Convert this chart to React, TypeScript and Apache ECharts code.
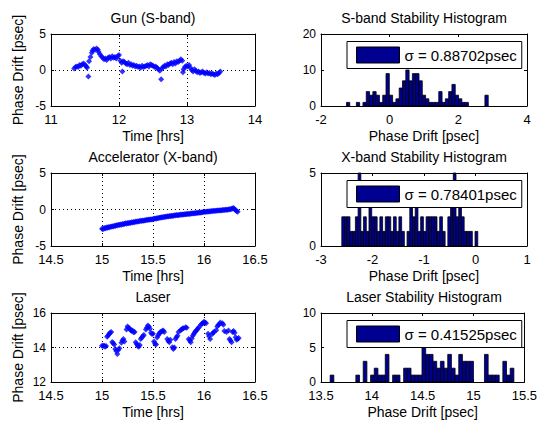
import React, { useEffect, useRef } from "react";
import * as echarts from "echarts";

const FONT = '"Liberation Sans", Arial, Helvetica, sans-serif';

// ---------- titles & labels ----------
const plotTitles = [
  "Gun (S-band)",
  "S-band Stability Histogram",
  "Accelerator (X-band)",
  "X-band Stability Histogram",
  "Laser",
  "Laser Stability Histogram",
];
const legendLabels = ["σ = 0.88702psec", "σ = 0.78401psec", "σ = 0.41525psec"];

// ---------- axis ranges / ticks ----------
const xRanges = [
  [11, 14, 1],
  [-2, 4, 2],
  [14.5, 16.5, 0.5],
  [-3, 1, 1],
  [14.5, 16.5, 0.5],
  [13.5, 15.5, 0.5],
];
const yRanges = [
  [-5, 5, 5],
  [0, 20, 10],
  [-5, 5, 5],
  [0, 5, 5],
  [12, 16, 2],
  [0, 10, 5],
];

// ---------- time series: [time hrs, phase drift psec] ----------
const gunDrift = [
  [11.34, 0.2], [11.36, 0.4], [11.38, 0.5], [11.40, 0.4], [11.42, 0.7], [11.44, 0.6],
  [11.46, 0.8], [11.48, 0.9], [11.50, 0.7], [11.52, 0.5], [11.53, 0.3], [11.55, -0.9],
  [11.56, 1.2], [11.58, 1.8], [11.60, 2.4], [11.61, 2.7], [11.63, 2.9], [11.65, 2.8],
  [11.67, 3.0], [11.69, 2.8], [11.70, 2.5], [11.72, 2.2], [11.74, 1.9], [11.76, 1.7],
  [11.78, 1.5], [11.80, 1.6], [11.82, 1.4], [11.84, 1.7], [11.86, 1.8], [11.88, 1.6],
  [11.90, 1.9], [11.92, 1.7], [11.94, 1.8], [11.96, 1.6], [11.98, 1.9], [12.00, 2.1],
  [12.02, 1.3], [12.04, 1.0], [12.05, -0.2], [12.06, 1.2], [12.08, 1.1], [12.10, 0.9],
  [12.12, 0.8], [12.14, 1.0], [12.16, 0.7], [12.18, 0.8], [12.20, 0.6], [12.22, 0.7],
  [12.24, 0.5], [12.26, 0.6], [12.28, 0.4], [12.30, 0.5], [12.32, 0.3], [12.34, 0.6],
  [12.36, 0.4], [12.38, 0.5], [12.40, 0.6], [12.42, 0.7], [12.44, 0.5], [12.46, 0.8],
  [12.48, 0.7], [12.50, 0.6], [12.52, 0.4], [12.54, 0.5], [12.56, 0.3], [12.58, 0.1],
  [12.60, -0.1], [12.62, -1.3], [12.63, 0.2], [12.65, 0.4], [12.67, 0.6], [12.69, 0.5],
  [12.71, 0.8], [12.73, 0.7], [12.75, 0.9], [12.77, 1.0], [12.79, 0.8], [12.81, 1.1],
  [12.83, 0.9], [12.85, 1.2], [12.87, 1.1], [12.89, 1.3], [12.91, 1.5], [12.93, 1.3],
  [12.94, -0.3], [12.95, 0.1], [12.97, 0.4], [12.99, 0.6], [13.01, 0.5], [13.03, 0.7],
  [13.05, 0.3], [13.07, 0.0], [13.09, -0.2], [13.11, 0.1], [13.13, -0.1], [13.15, -0.3],
  [13.17, -0.2], [13.19, -0.4], [13.21, -0.3], [13.23, -0.2], [13.25, -0.4], [13.27, -0.5],
  [13.29, -0.3], [13.31, -0.5], [13.33, -0.4], [13.35, -0.6], [13.37, -0.5], [13.39, -0.6],
  [13.41, -0.7], [13.43, -0.5], [13.45, -0.6], [13.47, -0.4], [13.49, -0.2],
];

const accelDrift = [
  [15.00, -2.62], [15.01, -2.70], [15.02, -2.55], [15.03, -2.60], [15.04, -2.48], [15.05, -2.52],
  [15.06, -2.40], [15.07, -2.45], [15.08, -2.35], [15.09, -2.38], [15.10, -2.28], [15.11, -2.32],
  [15.12, -2.22], [15.13, -2.25], [15.14, -2.15], [15.15, -2.18], [15.16, -2.10], [15.17, -2.14],
  [15.18, -2.05], [15.19, -2.08], [15.20, -1.98], [15.21, -2.02], [15.22, -1.95], [15.23, -1.90],
  [15.24, -1.94], [15.25, -1.85], [15.26, -1.88], [15.27, -1.80], [15.28, -1.84], [15.29, -1.76],
  [15.30, -1.78], [15.31, -1.70], [15.32, -1.74], [15.33, -1.66], [15.34, -1.68], [15.35, -1.62],
  [15.36, -1.64], [15.37, -1.58], [15.38, -1.55], [15.39, -1.58], [15.40, -1.50], [15.41, -1.53],
  [15.42, -1.46], [15.43, -1.48], [15.44, -1.42], [15.45, -1.44], [15.46, -1.38], [15.47, -1.40],
  [15.48, -1.34], [15.49, -1.36], [15.50, -1.30], [15.51, -1.28], [15.52, -1.24], [15.53, -1.26],
  [15.54, -1.18], [15.55, -1.20], [15.56, -1.12], [15.57, -1.14], [15.58, -1.06], [15.59, -1.08],
  [15.60, -1.02], [15.61, -1.04], [15.62, -0.98], [15.63, -1.00], [15.64, -0.94], [15.65, -0.96],
  [15.66, -0.90], [15.67, -0.92], [15.68, -0.86], [15.69, -0.88], [15.70, -0.84], [15.71, -0.80],
  [15.72, -0.82], [15.73, -0.76], [15.74, -0.78], [15.75, -0.74], [15.76, -0.76], [15.77, -0.70],
  [15.78, -0.72], [15.79, -0.68], [15.80, -0.70], [15.81, -0.64], [15.82, -0.66], [15.83, -0.60],
  [15.84, -0.62], [15.85, -0.58], [15.86, -0.60], [15.87, -0.54], [15.88, -0.56], [15.89, -0.52],
  [15.90, -0.54], [15.91, -0.48], [15.92, -0.50], [15.93, -0.46], [15.94, -0.48], [15.95, -0.42],
  [15.96, -0.44], [15.97, -0.40], [15.98, -0.36], [15.99, -0.38], [16.00, -0.32], [16.01, -0.34],
  [16.02, -0.30], [16.03, -0.28], [16.04, -0.30], [16.05, -0.24], [16.06, -0.26], [16.07, -0.22],
  [16.08, -0.24], [16.09, -0.18], [16.10, -0.20], [16.11, -0.16], [16.12, -0.18], [16.13, -0.14],
  [16.14, -0.12], [16.15, -0.14], [16.16, -0.10], [16.17, -0.12], [16.18, -0.08], [16.19, -0.06],
  [16.20, -0.08], [16.21, -0.04], [16.22, -0.02], [16.23, -0.04], [16.24, 0.00], [16.25, 0.02],
  [16.26, 0.05], [16.27, 0.10], [16.28, 0.15], [16.29, 0.20], [16.30, 0.05], [16.31, -0.10],
  [16.32, -0.20], [16.33, -0.30],
];

const laserDrift = [
  [15.00, 14.10], [15.01, 14.08], [15.02, 14.12], [15.03, 14.05], [15.04, 14.08],
  [15.05, 14.62], [15.06, 14.70], [15.07, 14.78], [15.08, 14.85], [15.09, 14.90],
  [15.10, 14.32], [15.11, 14.25], [15.12, 14.18],
  [15.13, 13.92], [15.14, 13.80], [15.15, 13.62], [15.16, 13.85], [15.17, 13.95],
  [15.19, 14.28], [15.20, 14.40], [15.21, 14.50], [15.22, 14.35],
  [15.24, 15.05], [15.25, 15.22], [15.26, 15.15], [15.27, 15.10], [15.28, 15.02], [15.29, 14.95],
  [15.30, 14.98], [15.31, 14.88], [15.32, 14.90],
  [15.33, 14.30], [15.34, 14.20], [15.35, 14.10], [15.36, 14.05], [15.37, 14.15],
  [15.38, 14.50], [15.39, 14.58], [15.40, 14.65], [15.41, 14.72],
  [15.43, 15.05], [15.44, 15.15], [15.45, 15.28], [15.46, 15.20], [15.47, 15.08],
  [15.48, 14.85], [15.49, 14.78], [15.50, 14.80],
  [15.51, 14.35], [15.52, 14.22], [15.53, 14.18],
  [15.54, 14.58], [15.55, 14.70], [15.56, 14.80],
  [15.57, 14.88], [15.58, 14.92], [15.59, 14.95], [15.60, 14.98], [15.61, 14.90],
  [15.64, 14.50], [15.65, 14.38], [15.66, 14.30], [15.67, 14.45],
  [15.69, 14.02], [15.70, 13.92], [15.71, 14.00],
  [15.72, 14.50], [15.73, 14.60], [15.74, 14.68],
  [15.75, 14.90], [15.77, 15.00], [15.78, 15.05], [15.79, 15.10], [15.80, 15.12], [15.82, 15.18], [15.83, 15.15],
  [15.85, 14.50], [15.86, 14.40], [15.87, 14.30], [15.88, 14.52],
  [15.89, 14.68], [15.90, 14.78], [15.91, 14.88], [15.92, 14.95], [15.93, 15.02], [15.94, 15.10], [15.95, 15.18],
  [15.97, 15.32], [15.98, 15.38], [15.99, 15.42], [16.00, 15.50], [16.01, 15.45], [16.02, 15.40],
  [16.04, 14.80], [16.05, 14.65], [16.06, 14.50],
  [16.08, 14.78], [16.09, 14.85], [16.10, 14.92], [16.12, 15.00],
  [16.13, 15.22], [16.14, 15.30], [16.15, 15.35], [16.16, 15.45], [16.18, 15.40], [16.19, 15.32],
  [16.20, 14.95], [16.22, 14.90], [16.24, 14.98],
  [16.25, 14.50], [16.26, 14.40], [16.27, 14.30],
  [16.28, 14.90], [16.29, 14.95], [16.30, 14.85],
  [16.31, 14.60], [16.32, 14.45], [16.33, 14.50], [16.34, 14.55],
];

// ---------- histograms: first bin left edge, bin width, counts ----------
const sbandBinStart = -1.258;
const sbandBinWidth = 0.096;
const sbandCounts = [
  1, 0, 0, 1, 0, 1, 4, 3, 4, 3, 1, 3, 9, 3, 1, 2, 5, 7, 10, 7, 9, 9, 7, 3, 2, 1,
  1, 1, 4, 1, 2, 4, 6, 3, 2, 1, 1, 0, 0, 0, 0, 0, 3, 0,
];

const xbandBinStart = -2.596;
const xbandBinWidth = 0.0528;
const xbandCounts = [
  2, 2, 2, 1, 1, 2, 5, 1, 2, 1, 3, 2, 2, 1, 2, 1, 2, 2, 1, 2, 1, 2, 1, 0, 1,
  3, 2, 3, 1, 2, 1, 2, 2, 2, 2, 1, 2, 1, 0, 2, 3, 5, 2, 3, 2, 1, 1, 1, 0, 1,
];

const laserBinStart = 13.59;
const laserBinWidth = 0.03614;
const laserCounts = [
  1, 0, 0, 0, 0, 0, 0, 1, 0, 3, 0, 1, 2, 1, 1, 4, 0, 1, 1, 0, 2, 2, 1, 1, 1,
  5, 4, 4, 3, 2, 3, 2, 4, 2, 1, 4, 3, 3, 3, 0, 0, 0, 4, 1, 1, 1, 0, 3, 1, 2,
];

// ---------- layout ----------
const grids = [
  { left: 51, top: 34, width: 204, height: 72 },
  { left: 321, top: 34, width: 206, height: 72 },
  { left: 51, top: 173, width: 204, height: 73 },
  { left: 321, top: 173, width: 206, height: 73 },
  { left: 51, top: 313, width: 204, height: 69 },
  { left: 321, top: 313, width: 206, height: 69 },
];

function toBins(start: number, width: number, counts: number[]) {
  const out: number[][] = [];
  counts.forEach((c, i) => {
    if (c > 0) out.push([start + i * width, start + (i + 1) * width, c]);
  });
  return out;
}

function buildOption() {
  const isTS = [true, false, true, false, true, false];
  const xNames = ["Time [hrs]", "Phase Drift [psec]", "Time [hrs]", "Phase Drift [psec]", "Time [hrs]", "Phase Drift [psec]"];
  const xLabelStyle = { color: "#000", fontSize: 13, lineHeight: 11, fontFamily: FONT };
  const yLabelStyle = { color: "#000", fontSize: 12, lineHeight: 10, fontFamily: FONT };
  const nameStyle = { color: "#000", fontSize: 14, fontFamily: FONT };
  const lineStyle = { color: "#000", width: 1 };
  const dotted = { color: "#000", width: 1, type: [1, 3] as any };

  const xAxis: any[] = [];
  const yAxis: any[] = [];
  grids.forEach((_, i) => {
    const [xmin, xmax, xint] = xRanges[i];
    const [ymin, ymax, yint] = yRanges[i];
    xAxis.push({
      gridIndex: i, type: "value", min: xmin, max: xmax, interval: xint, position: "bottom",
      axisLine: { show: true, onZero: false, lineStyle },
      axisTick: { show: true, inside: true, length: 3, lineStyle },
      axisLabel: { ...xLabelStyle, margin: 7.5 },
      splitLine: { show: isTS[i], lineStyle: dotted },
      name: xNames[i], nameLocation: "middle", nameGap: 23, nameTextStyle: nameStyle,
    });
    xAxis.push({
      gridIndex: i, type: "value", min: xmin, max: xmax, interval: xint, position: "top",
      axisLine: { show: true, onZero: false, lineStyle },
      axisTick: { show: true, inside: true, length: 3, lineStyle },
      axisLabel: { show: false }, splitLine: { show: false },
    });
    yAxis.push({
      gridIndex: i, type: "value", min: ymin, max: ymax, interval: yint, position: "left",
      axisLine: { show: true, onZero: false, lineStyle },
      axisTick: { show: true, inside: true, length: 3, lineStyle },
      axisLabel: { ...yLabelStyle, margin: 5 },
      splitLine: { show: isTS[i], lineStyle: dotted },
      name: isTS[i] ? "Phase Drift [psec]" : "", nameLocation: "middle", nameGap: 26,
      nameTextStyle: nameStyle,
    });
    yAxis.push({
      gridIndex: i, type: "value", min: ymin, max: ymax, interval: yint, position: "right",
      axisLine: { show: true, onZero: false, lineStyle },
      axisTick: { show: true, inside: true, length: 3, lineStyle },
      axisLabel: { show: false }, splitLine: { show: false },
    });
  });

  const scatter = (idx: number, data: number[][]) => ({
    type: "scatter", xAxisIndex: idx * 2, yAxisIndex: idx * 2, data,
    symbol: "diamond", symbolSize: [6, 6], itemStyle: { color: "#0000ff" }, z: 3,
  });

  const hist = (idx: number, name: string, data: number[][]) => ({
    type: "custom", name, xAxisIndex: idx * 2, yAxisIndex: idx * 2, data,
    encode: { x: [0, 1], y: 2 },
    itemStyle: { color: "#000090", borderColor: "#000", borderWidth: 1 },
    renderItem: (params: any, api: any) => {
      const p0 = api.coord([api.value(0), api.value(2)]);
      const p1 = api.coord([api.value(1), 0]);
      return {
        type: "rect",
        shape: { x: p0[0], y: p0[1], width: p1[0] - p0[0], height: p1[1] - p0[1] },
        style: { fill: "#000090", stroke: "#000", lineWidth: 0.8 },
      };
    },
  });

  const legends = [1, 3, 5].map((gi, k) => ({
    data: [legendLabels[k]],
    left: grids[gi].left + 26,
    top: grids[gi].top + 7.5,
    orient: "horizontal",
    backgroundColor: "#fff",
    borderColor: "#000",
    borderWidth: 1,
    borderRadius: 0,
    padding: [5, 5, 5, 9],
    itemWidth: 43,
    itemHeight: 16,
    icon: "rect",
    selectedMode: false,
    itemStyle: { color: "#000090", borderColor: "#000", borderWidth: 1 },
    textStyle: { color: "#000", fontSize: 15, fontFamily: FONT },
  }));

  const title = grids.map((g, i) => ({
    text: plotTitles[i],
    left: g.left + g.width / 2,
    top: g.top - 23.5,
    textAlign: "center",
    padding: 0,
    textStyle: { color: "#000", fontSize: 14, fontWeight: "normal", fontFamily: FONT },
  }));

  return {
    animation: false,
    backgroundColor: "#fff",
    textStyle: { fontFamily: FONT },
    title,
    legend: legends,
    grid: grids.map((g) => ({ ...g, containLabel: false })),
    xAxis,
    yAxis,
    series: [
      scatter(0, gunDrift),
      hist(1, legendLabels[0], toBins(sbandBinStart, sbandBinWidth, sbandCounts)),
      scatter(2, accelDrift),
      hist(3, legendLabels[1], toBins(xbandBinStart, xbandBinWidth, xbandCounts)),
      scatter(4, laserDrift),
      hist(5, legendLabels[2], toBins(laserBinStart, laserBinWidth, laserCounts)),
    ],
  };
}

export default function App() {
  const ref = useRef<HTMLDivElement>(null);
  useEffect(() => {
    if (!ref.current) return;
    const chart = echarts.init(ref.current, undefined, { renderer: "svg" });
    chart.setOption(buildOption() as any);
    return () => chart.dispose();
  }, []);
  return (
    <div
      ref={ref}
      style={{ position: "absolute", left: 0, top: 0, width: 540, height: 422, background: "#fff" }}
    />
  );
}
